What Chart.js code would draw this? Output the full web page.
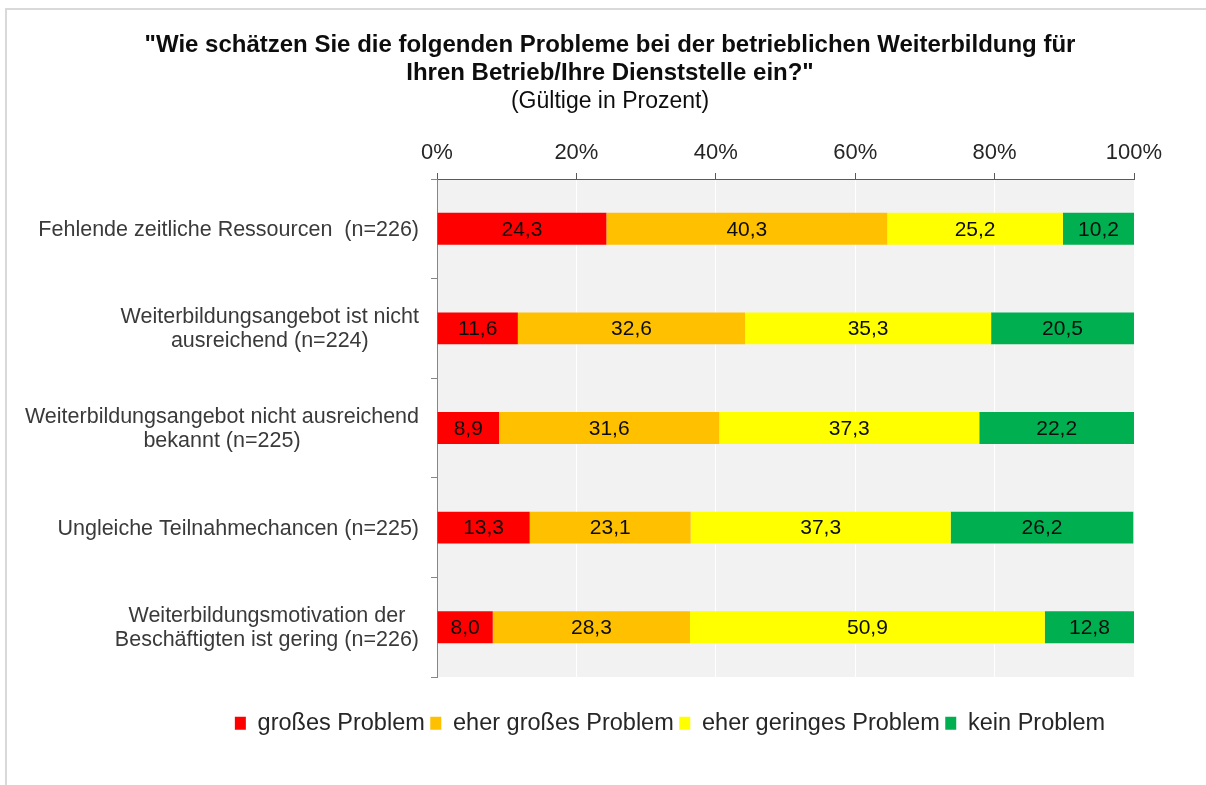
<!DOCTYPE html>
<html>
<head>
<meta charset="utf-8">
<script src="https://cdn.jsdelivr.net/npm/chart.js@4"></script>
<style>
  body { margin: 0; background: #fff; overflow: hidden; }
  canvas { display: block; }
</style>
</head>
<body>
<canvas id="myChart" width="1206" height="785"></canvas>
<script>
const categories = [
    ["Fehlende zeitliche Ressourcen  (n=226)"],
    ["Weiterbildungsangebot ist nicht", "ausreichend (n=224)"],
    ["Weiterbildungsangebot nicht ausreichend", "bekannt (n=225)"],
    ["Ungleiche Teilnahmechancen (n=225)"],
    ["Weiterbildungsmotivation der", "Beschäftigten ist gering (n=226)"]
];
const seriesNames = ["großes Problem", "eher großes Problem", "eher geringes Problem", "kein Problem"];
const grossesProblem = [24.3, 11.6, 8.9, 13.3, 8.0];
const eherGrossesProblem = [40.3, 32.6, 31.6, 23.1, 28.3];
const eherGeringesProblem = [25.2, 35.3, 37.3, 37.3, 50.9];
const keinProblem = [10.2, 20.5, 22.2, 26.2, 12.8];
const xTicks = [0, 20, 40, 60, 80, 100];
const titleLines = ['"Wie schätzen Sie die folgenden Probleme bei der betrieblichen Weiterbildung für', 'Ihren Betrieb/Ihre Dienststelle ein?"'];
const subTitle = "(Gültige in Prozent)";

const FONT = '"Liberation Sans", Arial, sans-serif';
Chart.defaults.font.family = FONT;

// background: outer frame + grey plot area
const background = {
    id: 'background',
    beforeDraw(chart) {
        const ctx = chart.ctx;
        const a = chart.chartArea;
        ctx.save();
        ctx.strokeStyle = '#d9d9d9';
        ctx.lineWidth = 2;
        ctx.strokeRect(6, 9, 1400, 1000);
        ctx.fillStyle = '#f2f2f2';
        ctx.fillRect(a.left, a.top, a.right - a.left, a.bottom - a.top);
        ctx.restore();
    }
};

const headline = {
    id: 'headline',
    afterDraw(chart) {
        const ctx = chart.ctx;
        ctx.save();
        ctx.textAlign = 'center';
        ctx.textBaseline = 'alphabetic';
        ctx.fillStyle = '#0d0d0d';
        ctx.font = 'bold 24px ' + FONT;
        ctx.fillText(titleLines[0], 610, 52);
        ctx.fillText(titleLines[1], 610, 80);
        ctx.font = '23px ' + FONT;
        ctx.fillText(subTitle, 610, 108);
        ctx.restore();
    }
};

// category labels: right edge at the axis, lines centred inside each label
const categoryLabels = {
    id: 'categoryLabels',
    afterDraw(chart) {
        const ctx = chart.ctx;
        const y = chart.scales.y;
        ctx.save();
        ctx.font = '21.5px ' + FONT;
        ctx.fillStyle = '#3a3a3a';
        ctx.textAlign = 'center';
        ctx.textBaseline = 'middle';
        chart.data.labels.forEach((lines, i) => {
            const yc = y.getPixelForTick(i);
            const w = Math.max(...lines.map(l => ctx.measureText(l).width));
            const cx = y.right - 18 - w / 2;
            lines.forEach((l, k) => {
                ctx.fillText(l, cx, yc + 1 + (k - (lines.length - 1) / 2) * 24);
            });
        });
        ctx.restore();
    }
};

const valueLabels = {
    id: 'valueLabels',
    afterDatasetsDraw(chart) {
        const ctx = chart.ctx;
        ctx.save();
        ctx.font = '21px ' + FONT;
        ctx.fillStyle = '#0d0d0d';
        ctx.textAlign = 'center';
        ctx.textBaseline = 'middle';
        chart.data.datasets.forEach((ds, i) => {
            chart.getDatasetMeta(i).data.forEach((bar, j) => {
                const x = (bar.x + bar.base) / 2;
                ctx.fillText(ds.data[j].toFixed(1).replace('.', ','), x, bar.y + 1);
            });
        });
        ctx.restore();
    }
};

const colors = ['#ff0000', '#ffc000', '#ffff00', '#00b050'];
const seriesData = [grossesProblem, eherGrossesProblem, eherGeringesProblem, keinProblem];

const data = {
    labels: categories,
    datasets: seriesNames.map((name, i) => ({
        label: name,
        data: seriesData[i],
        backgroundColor: colors[i],
        borderWidth: 0,
        barPercentage: 0.4,
        categoryPercentage: 0.8
    }))
};

const ctx = document.getElementById('myChart').getContext('2d');
const myChart = new Chart(ctx, {
    type: 'bar',
    data: data,
    options: {
        indexAxis: 'y',
        responsive: false,
        animation: false,
        layout: {
            padding: { top: 119, left: 206, right: 72, bottom: 40 }
        },
        scales: {
            x: {
                position: 'top',
                stacked: true,
                min: 0,
                max: 100,
                afterBuildTicks(s) {
                    s.ticks = xTicks.map(v => ({ value: v }));
                },
                afterFit(s) {
                    s.height = 60;
                },
                ticks: {
                    callback: v => v + '%',
                    color: '#262626',
                    padding: 7,
                    maxRotation: 0,
                    font: { size: 22 }
                },
                grid: {
                    color: '#ffffff',
                    lineWidth: 1,
                    tickLength: 6,
                    tickColor: '#595959'
                },
                border: { color: '#595959', width: 1 }
            },
            y: {
                stacked: true,
                afterFit(s) {
                    s.width = 231;
                },
                ticks: { display: false },
                grid: {
                    drawOnChartArea: false,
                    offset: true,
                    tickLength: 6,
                    tickColor: '#868686'
                },
                border: { color: '#868686', width: 1 }
            }
        },
        plugins: {
            legend: {
                position: 'bottom',
                title: {
                    display: true,
                    text: '',
                    font: { size: 10 },
                    padding: { top: 17, bottom: 0 }
                },
                labels: {
                    boxWidth: 11,
                    boxHeight: 13,
                    padding: 5.5,
                    color: '#262626',
                    font: { size: 23.5 }
                }
            },
            title: { display: false },
            tooltip: { enabled: false }
        }
    },
    plugins: [background, headline, categoryLabels, valueLabels]
});
</script>
</body>
</html>
